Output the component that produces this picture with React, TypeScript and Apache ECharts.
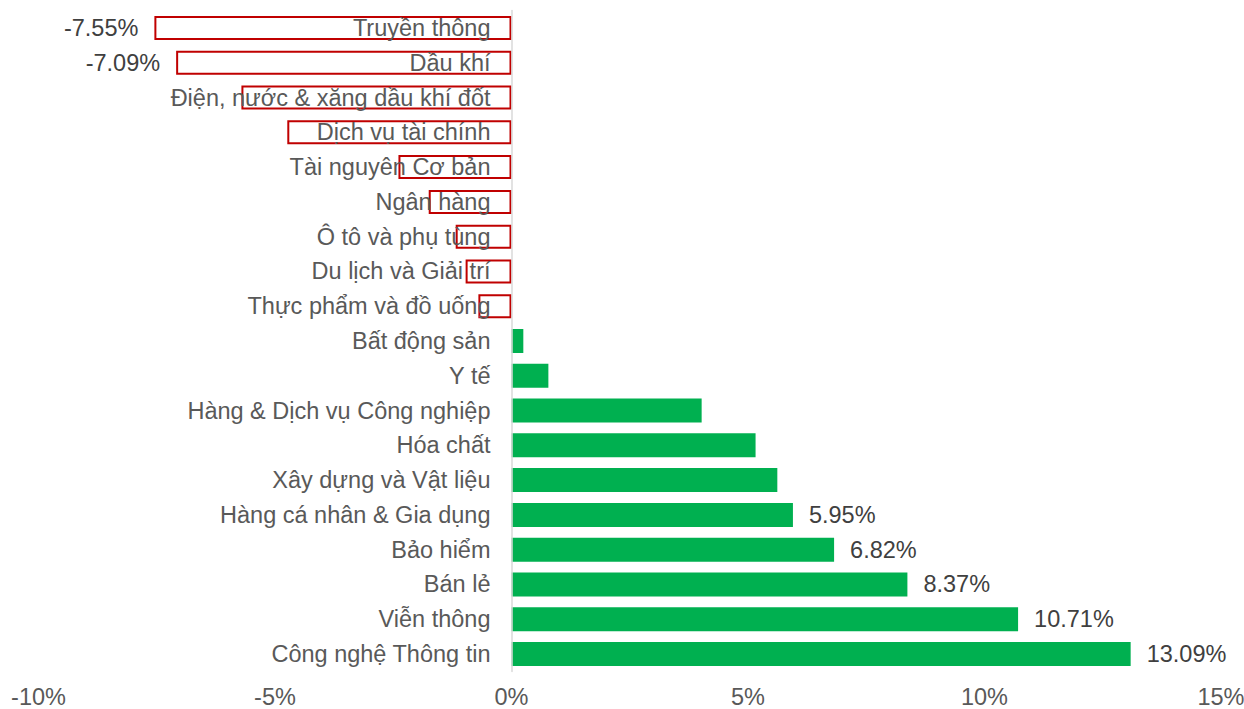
import React, { useEffect, useRef } from "react";
import * as echarts from "echarts";

const categories = [
  "Truyền thông",
  "Dầu khí",
  "Điện, nước & xăng dầu khí đốt",
  "Dịch vụ tài chính",
  "Tài nguyên Cơ bản",
  "Ngân hàng",
  "Ô tô và phụ tùng",
  "Du lịch và Giải trí",
  "Thực phẩm và đồ uống",
  "Bất động sản",
  "Y tế",
  "Hàng & Dịch vụ Công nghiệp",
  "Hóa chất",
  "Xây dựng và Vật liệu",
  "Hàng cá nhân & Gia dụng",
  "Bảo hiểm",
  "Bán lẻ",
  "Viễn thông",
  "Công nghệ Thông tin",
];

const values = [
  -7.55, -7.09, -5.71, -4.74, -2.39, -1.75, -1.18, -0.97, -0.7, 0.25, 0.78,
  4.02, 5.16, 5.62, 5.95, 6.82, 8.37, 10.71, 13.09,
];

const labeled = [
  true, true, false, false, false, false, false, false, false, false, false,
  false, false, false, true, true, true, true, true,
];

const xTicks = [-10, -5, 0, 5, 10, 15];

const W = 1244;
const H = 709;
const GL = 38.5;
const GR = 23;
const GT = 10.6;
const GB = 37.6;
const FONT = "Liberation Sans, Arial, sans-serif";
const FS = 23.5;

export default function App() {
  const ref = useRef<HTMLDivElement>(null);
  useEffect(() => {
    if (!ref.current) return;
    const chart = echarts.init(ref.current, null, { renderer: "svg" });
    const xmin = xTicks[0];
    const xmax = xTicks[xTicks.length - 1];
    const zeroOffset = ((W - GL - GR) * (0 - xmin)) / (xmax - xmin);
    const data = values.map((v, i) => {
      const neg = v < 0;
      return {
        value: v,
        itemStyle: neg
          ? { color: "rgba(255,255,255,0)", borderColor: "#C00000", borderWidth: 2 }
          : { color: "#00B050" },
        label: {
          show: labeled[i],
          position: neg ? "left" : "right",
          distance: 16,
          formatter: () => v.toFixed(2) + "%",
          fontSize: FS,
          color: "#404040",
          fontFamily: FONT,
        },
      };
    });
    chart.setOption({
      animation: false,
      backgroundColor: "#ffffff",
      grid: {
        left: GL,
        right: GR,
        top: GT,
        bottom: GB,
        containLabel: false,
        outerBoundsMode: "none",
      },
      xAxis: {
        type: "value",
        min: xmin,
        max: xmax,
        interval: 5,
        splitLine: { show: false },
        axisLine: { show: false },
        axisTick: { show: false },
        axisLabel: {
          formatter: (v: number) => v + "%",
          fontSize: FS,
          lineHeight: 20,
          color: "#595959",
          margin: 16,
          fontFamily: FONT,
        },
      },
      yAxis: {
        type: "category",
        data: categories,
        inverse: true,
        z: 5,
        position: "left",
        offset: -zeroOffset,
        axisLine: { show: true, onZero: false, lineStyle: { color: "#d9d9d9", width: 1.5 } },
        axisTick: { show: false },
        axisLabel: {
          fontSize: FS,
          color: "#595959",
          margin: 21,
          fontFamily: FONT,
        },
      },
      series: [
        {
          type: "bar",
          data,
          barWidth: "69%",
        },
      ],
    });
    return () => chart.dispose();
  }, []);
  return (
    <div
      ref={ref}
      style={{ position: "fixed", left: 0, top: 0, width: W, height: H }}
    />
  );
}
